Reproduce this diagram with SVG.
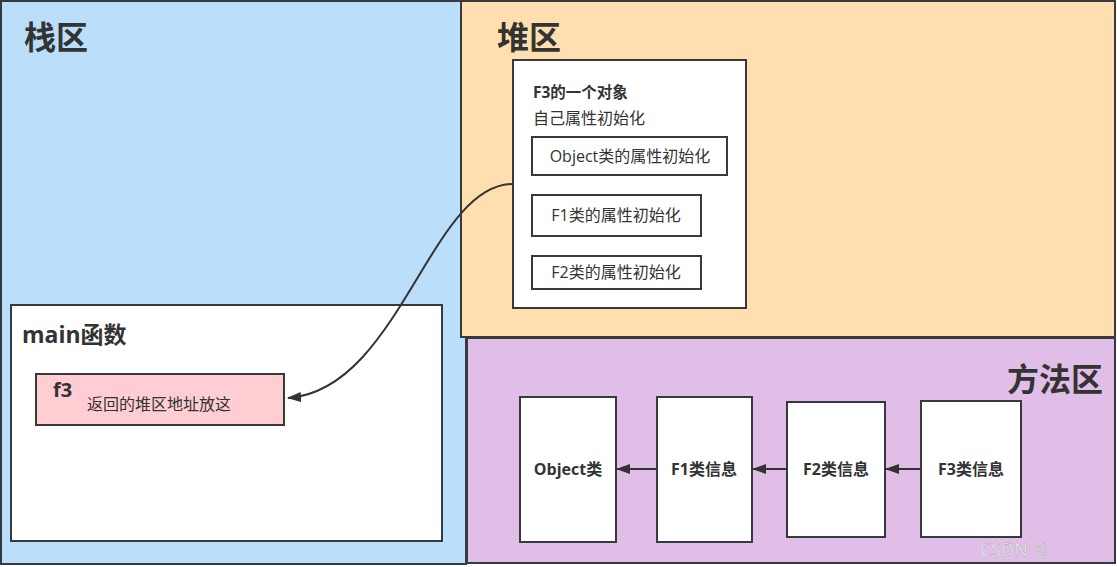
<svg xmlns="http://www.w3.org/2000/svg" width="1117" height="567" viewBox="0 0 1117 567">
<style>
.area{stroke:#36393d;stroke-width:2}
.box{fill:#ffffff;stroke:#36393d;stroke-width:2}
text{font-family:"Open Sans","Noto Sans CJK SC",sans-serif;fill:#333333}
.title{font-size:32px;font-weight:bold}
.bold{font-weight:bold}
.edge{fill:none;stroke:#333333;stroke-width:2}
</style>
<defs>
<marker id="arr2" markerWidth="14" markerHeight="10" refX="13" refY="5" orient="auto" markerUnits="userSpaceOnUse" viewBox="0 0 14 10">
<path d="M0,0 L14,5 L0,10 Z" fill="#333333"/>
</marker>
</defs>
<rect width="1117" height="567" fill="#ffffff"/>
<g id="stack-area">
<rect class="area" x="1" y="1" width="465" height="563" fill="#bbdefb"/>
<text class="title" x="24" y="49">栈区</text>
</g>
<g id="heap-area">
<rect class="area" x="461" y="1" width="654" height="336" fill="#ffdfb0"/>
<text class="title" x="497" y="49">堆区</text>
</g>
<g id="method-area">
<rect class="area" x="467" y="338" width="648" height="225" fill="#e1bee7"/>
<text class="title" x="1103" y="391" text-anchor="end">方法区</text>
</g>
<g id="f3-object">
<rect class="box" x="513" y="60" width="233" height="248"/>
<text class="bold" x="533" y="98" font-size="15.5">F3的一个对象</text>
<text x="533" y="124" font-size="16">自己属性初始化</text>
</g>
<g id="object-attr">
<rect class="box" x="532" y="137" width="195" height="38"/>
<text x="630" y="162" font-size="16" text-anchor="middle">Object类的属性初始化</text>
</g>
<g id="f1-attr">
<rect class="box" x="532" y="195" width="169" height="41"/>
<text x="616" y="221" font-size="16" text-anchor="middle">F1类的属性初始化</text>
</g>
<g id="f2-attr">
<rect class="box" x="532" y="256" width="169" height="33"/>
<text x="616" y="278" font-size="16" text-anchor="middle">F2类的属性初始化</text>
</g>
<g id="main-func">
<rect class="box" x="11" y="305" width="431" height="236"/>
<text class="bold" x="22" y="343" font-size="23">main函数</text>
</g>
<g id="f3-var">
<rect class="area" x="36" y="374" width="248" height="51" fill="#ffcdd2"/>
<text class="bold" x="53" y="397" font-size="20">f3</text>
<text x="87" y="410" font-size="16">返回的堆区地址放这</text>
</g>
<g id="object-class">
<rect class="box" x="520" y="397" width="96" height="145"/>
<text class="bold" x="568" y="475" font-size="16" text-anchor="middle">Object类</text>
</g>
<g id="f1-class">
<rect class="box" x="657" y="397" width="95" height="145"/>
<text class="bold" x="704" y="475" font-size="16" text-anchor="middle">F1类信息</text>
</g>
<g id="f2-class">
<rect class="box" x="787" y="402" width="98" height="135"/>
<text class="bold" x="836" y="475" font-size="16" text-anchor="middle">F2类信息</text>
</g>
<g id="f3-class">
<rect class="box" x="921" y="401" width="100" height="136"/>
<text class="bold" x="971" y="475" font-size="16" text-anchor="middle">F3类信息</text>
</g>
<g id="connectors">
<path class="edge" d="M513,184 C430,184 400,390 288,398" marker-end="url(#arr2)"/>
<line class="edge" x1="656" y1="469" x2="617" y2="469" marker-end="url(#arr2)"/>
<line class="edge" x1="786" y1="469" x2="753" y2="469" marker-end="url(#arr2)"/>
<line class="edge" x1="920" y1="469" x2="886" y2="469" marker-end="url(#arr2)"/>
</g>
<text x="980" y="556" font-size="18" style="fill:#f4f4f4;stroke:#a0a0a0;stroke-width:0.4">CSDN @</text>
</svg>
